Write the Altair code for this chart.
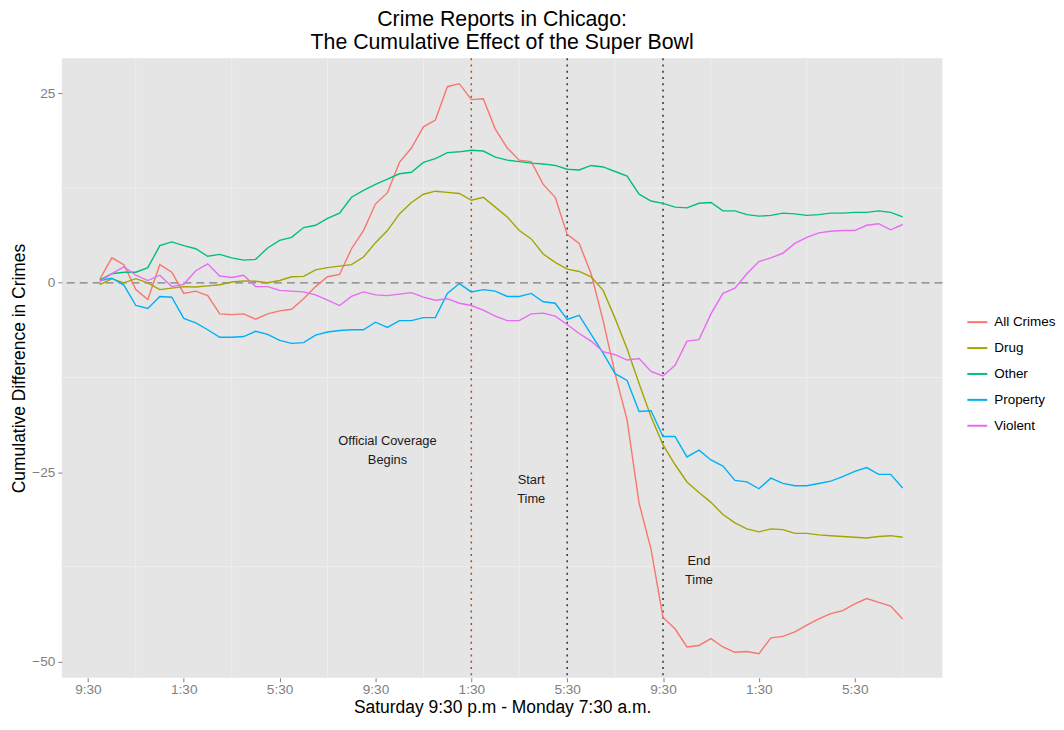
import altair as alt
import pandas as pd

# Hours since Saturday 9:30 p.m. (half-hour steps)
hours = [0.5, 1.0, 1.5, 2.0, 2.5, 3.0, 3.5, 4.0, 4.5, 5.0, 5.5, 6.0, 6.5, 7.0, 7.5, 8.0,
         8.5, 9.0, 9.5, 10.0, 10.5, 11.0, 11.5, 12.0, 12.5, 13.0, 13.5, 14.0, 14.5, 15.0,
         15.5, 16.0, 16.5, 17.0, 17.5, 18.0, 18.5, 19.0, 19.5, 20.0, 20.5, 21.0, 21.5, 22.0,
         22.5, 23.0, 23.5, 24.0, 24.5, 25.0, 25.5, 26.0, 26.5, 27.0, 27.5, 28.0, 28.5, 29.0,
         29.5, 30.0, 30.5, 31.0, 31.5, 32.0, 32.5, 33.0, 33.5, 34.0]

all_crimes = [0.5, 3.3, 2.4, -0.9, -2.2, 2.4, 1.4, -1.4, -1.1, -1.7, -4.1, -4.2, -4.1, -4.8,
              -4.1, -3.7, -3.5, -2.1, -0.5, 0.8, 1.1, 4.5, 6.9, 10.4, 11.9, 15.9, 17.8, 20.6,
              21.5, 25.9, 26.3, 24.2, 24.3, 20.3, 17.8, 16.2, 16.0, 13.0, 11.3, 6.4, 5.2, 1.2,
              -5.0, -12.0, -18.1, -29.1, -35.2, -44.2, -45.7, -48.1, -47.9, -47.0, -48.1, -48.8,
              -48.7, -49.0, -46.9, -46.7, -46.1, -45.2, -44.4, -43.7, -43.3, -42.4, -41.7, -42.2,
              -42.7, -44.4]
drug = [-0.25, 0.55, 0.0, 0.55, 0.0, -0.9, -0.7, -0.5, -0.55, -0.4, -0.25, 0.1, 0.25, 0.2,
        0.0, 0.3, 0.8, 0.85, 1.7, 2.0, 2.2, 2.4, 3.4, 5.3, 6.9, 9.1, 10.6, 11.7, 12.1, 11.95,
        11.8, 10.9, 11.3, 10.0, 8.7, 6.9, 5.8, 3.8, 2.7, 1.8, 1.5, 0.8, -1.0, -4.7, -8.7, -13.3,
        -17.7, -21.4, -24.0, -26.3, -27.7, -29.0, -30.6, -31.7, -32.5, -32.9, -32.5, -32.6,
        -33.1, -33.1, -33.3, -33.4, -33.5, -33.6, -33.7, -33.5, -33.4, -33.6]
other = [0.4, 1.2, 1.4, 1.4, 2.0, 4.9, 5.4, 4.9, 4.5, 3.5, 3.75, 3.3, 3.0, 3.1, 4.6, 5.6, 6.0,
         7.3, 7.6, 8.5, 9.2, 11.3, 12.2, 13.0, 13.7, 14.4, 14.6, 15.9, 16.4, 17.2, 17.3, 17.5,
         17.4, 16.6, 16.2, 16.0, 15.8, 15.7, 15.5, 15.0, 14.9, 15.5, 15.3, 14.7, 14.1, 11.7,
         10.8, 10.5, 10.0, 9.9, 10.5, 10.6, 9.5, 9.5, 9.0, 8.8, 8.9, 9.2, 9.1, 8.9, 9.0, 9.2,
         9.2, 9.3, 9.3, 9.5, 9.3, 8.7]
prop = [0.3, 0.6, -0.3, -3.0, -3.4, -1.8, -1.9, -4.7, -5.3, -6.2, -7.2, -7.2, -7.1, -6.4,
        -6.8, -7.6, -8.0, -7.9, -6.9, -6.5, -6.3, -6.2, -6.2, -5.2, -5.9, -5.0, -5.0, -4.6,
        -4.6, -1.4, -0.1, -1.2, -0.9, -1.1, -1.8, -1.8, -1.4, -2.5, -2.7, -4.85, -4.3, -6.8,
        -9.3, -12.0, -12.9, -17.0, -16.9, -20.3, -20.3, -23.0, -22.1, -23.4, -24.2, -26.1,
        -26.3, -27.2, -25.8, -26.5, -26.8, -26.8, -26.5, -26.2, -25.6, -24.9, -24.4, -25.3,
        -25.3, -27.1]
violent = [0.2, 1.2, 2.1, 1.0, 0.3, 1.0, -0.5, -0.2, 1.6, 2.5, 0.9, 0.7, 1.0, -0.5, -0.5,
           -1.0, -1.1, -1.2, -1.6, -2.3, -3.0, -1.8, -1.2, -1.6, -1.7, -1.5, -1.3, -1.9, -2.3,
           -2.1, -2.7, -3.0, -3.6, -4.4, -5.0, -5.0, -4.1, -4.0, -4.4, -5.5, -6.7, -7.7, -9.1,
           -9.5, -10.2, -10.0, -11.7, -12.3, -10.9, -7.7, -7.5, -4.1, -1.4, -0.7, 1.2, 2.8, 3.3,
           3.9, 5.2, 6.0, 6.6, 6.8, 6.9, 6.9, 7.6, 7.8, 7.0, 7.7]

series_names = ["All Crimes", "Drug", "Other", "Property", "Violent"]
series_colors = ["#F8766D", "#A3A500", "#00BF7D", "#00B0F6", "#E76BF3"]

tick_hours = [0, 4, 8, 12, 16, 20, 24, 28, 32]
tick_labels = ["9:30", "1:30", "5:30", "9:30", "1:30", "5:30", "9:30", "1:30", "5:30"]
y_ticks = [-50, -25, 0, 25]
minor_x = [2, 6, 10, 14, 18, 22, 26, 30, 34]
minor_y = [-37.5, -12.5, 12.5]

event_hours = [16, 20, 24]
event_colors = ["#A0522D", "#333333", "#333333"]

notes_text = ["Official Coverage\nBegins", "Start\nTime", "End\nTime"]
notes_x = [12.5, 18.5, 25.5]
notes_y = [-20.9, -26.0, -36.8]

# ---- tables ----
rows = []
for name, vals in zip(series_names, [all_crimes, drug, other, prop, violent]):
    for h, v in zip(hours, vals):
        rows.append({"hours": h, "value": v, "series": name})
df = pd.DataFrame(rows)

label_expr = "[" + ",".join("'" + s + "'" for s in tick_labels) + "][round(datum.value/4)]"

xscale = alt.Scale(domain=[-1.09, 35.66], nice=False, zero=False)
yscale = alt.Scale(domain=[-52.17, 29.67], nice=False, zero=False)
xaxis = alt.Axis(values=tick_hours, labelExpr=label_expr,
                 title="Saturday 9:30 p.m - Monday 7:30 a.m.")
yaxis = alt.Axis(values=y_ticks, title="Cumulative Difference in Crimes", format="d")

gx = alt.Chart(pd.DataFrame({"hours": minor_x})).mark_rule(
    color="#EEEEEE", strokeWidth=1
).encode(x=alt.X("hours:Q", scale=xscale, axis=xaxis))

gy = alt.Chart(pd.DataFrame({"value": minor_y})).mark_rule(
    color="#EEEEEE", strokeWidth=1
).encode(y=alt.Y("value:Q", scale=yscale, axis=yaxis))

zero = alt.Chart(pd.DataFrame({"value": [0]})).mark_rule(
    color="#7F7F7F", strokeWidth=1.2, strokeDash=[8, 5]
).encode(y=alt.Y("value:Q", scale=yscale, axis=yaxis))

events = alt.Chart(pd.DataFrame({"hours": event_hours, "c": event_colors})).mark_rule(
    strokeWidth=1.5, strokeDash=[2, 4.3]
).encode(x=alt.X("hours:Q", scale=xscale, axis=xaxis),
         color=alt.Color("c:N", scale=None))

lines = alt.Chart(df).mark_line(strokeWidth=1.4).encode(
    x=alt.X("hours:Q", scale=xscale, axis=xaxis),
    y=alt.Y("value:Q", scale=yscale, axis=yaxis),
    color=alt.Color("series:N",
                    scale=alt.Scale(domain=series_names, range=series_colors),
                    legend=alt.Legend(title=None, orient="none", legendX=908, legendY=254,
                                      symbolType="stroke", symbolSize=400,
                                      symbolStrokeWidth=2, labelFontSize=13.5,
                                      labelColor="#000000", rowPadding=8, padding=0,
                                      labelOffset=6)),
)

notes = alt.Chart(pd.DataFrame({"hours": notes_x, "value": notes_y, "t": notes_text})).mark_text(
    lineBreak="\n", fontSize=12.9, lineHeight=19, align="center", baseline="middle",
    color="#1A1A1A"
).encode(x=alt.X("hours:Q", scale=xscale, axis=xaxis),
         y=alt.Y("value:Q", scale=yscale, axis=yaxis),
         text="t:N")

chart = alt.layer(gx, gy, zero, events, lines, notes).properties(
    width=884, height=622,
    autosize=alt.AutoSizeParams(type="none"),
    padding={"left": 54, "top": 49, "right": 114, "bottom": 38},
    title=alt.TitleParams(["Crime Reports in Chicago:", "The Cumulative Effect of the Super Bowl"],
                          fontSize=21.4, fontWeight="normal", anchor="middle", lineHeight=23.5,
                          offset=4, color="#000000", font="Liberation Sans"),
).configure(font="Liberation Sans").configure_view(
    fill="#E5E5E5", stroke=None
).configure_axis(
    domain=False, grid=False, tickColor="#7F7F7F", tickSize=4, labelColor="#7F7F7F",
    labelFontSize=13.7, titleFontSize=17.5, titleColor="#000000", titleFontWeight="normal",
).configure_axisX(labelPadding=1, titlePadding=2).configure_axisY(labelPadding=3, titlePadding=3)

chart.save("out.html", embed_options={"renderer": "svg", "actions": False})
